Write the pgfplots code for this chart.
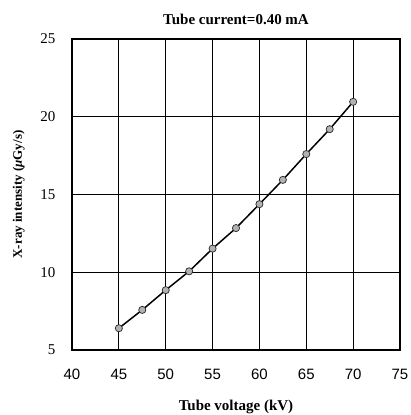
\documentclass[border=0pt]{standalone}
\usepackage{pgfplots}
\pgfplotsset{compat=1.18}
\usepackage{fontspec}
\setmainfont{Liberation Serif}
\newfontfamily\arialfont{Liberation Sans}
\begin{document}
\begin{tikzpicture}
\useasboundingbox (-72bp,-65bp) rectangle (339bp,350bp);
\begin{axis}[
  at={(0,0)}, anchor=south west,
  width=328bp, height=311bp, scale only axis,
  xmin=40, xmax=75, ymin=5, ymax=25,
  xtick={40,45,...,75}, ytick={5,10,...,25},
  grid=major,
  major grid style={black, line width=0.8pt},
  axis line style={black, line width=1.2pt},
  tick style={draw=none},
  /pgf/number format/assume math mode=true,
  xticklabel style={font=\arialfont\fontsize{15bp}{17bp}\selectfont, yshift=-16bp},
  yticklabel style={font=\fontsize{15bp}{17bp}\selectfont, xshift=-13bp},
  title={\textbf{Tube current=0.40 mA}},
  title style={font=\fontsize{15bp}{17bp}\selectfont, yshift=5bp},
  xlabel={\textbf{Tube voltage (kV)}},
  xlabel style={font=\fontsize{15bp}{17bp}\selectfont, yshift=-13bp},
  ylabel={\textbf{X-ray intensity (\textit{μ}Gy/s)}},
  ylabel style={font=\fontsize{13bp}{15bp}\selectfont, yshift=9bp},
]
\addplot[black, line width=1.5pt, mark=*, mark size=3.6pt,
  mark options={fill=gray!60, draw=gray!30!black, line width=0.7pt}]
coordinates {
(45,6.4) (47.5,7.58) (50,8.85) (52.5,10.06) (55,11.52) (57.5,12.84)
(60,14.38) (62.5,15.94) (65,17.6) (67.5,19.2) (70,20.96)
};
\end{axis}
\end{tikzpicture}
\end{document}
